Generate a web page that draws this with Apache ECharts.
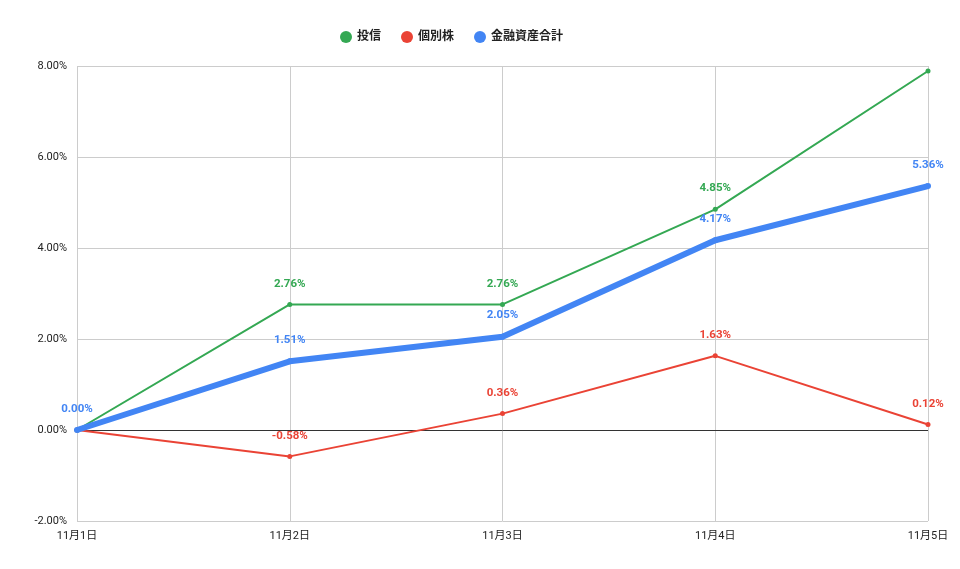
<!DOCTYPE html>
<html>
<head>
<meta charset="utf-8">
<script src="https://cdn.jsdelivr.net/npm/echarts@6/dist/echarts.min.js"></script>
<style>
  html, body { margin: 0; padding: 0; background: #fff; }
  #chart { width: 960px; height: 569px; }
</style>
</head>
<body>
<div id="chart"></div>
<script>
// 日付
var days = ['11月1日', '11月2日', '11月3日', '11月4日', '11月5日'];

// 各系列の騰落率(%)
var toushin = [0, 2.76, 2.76, 4.85, 7.89];
var kobetsu = [0, -0.58, 0.36, 1.63, 0.12];
var goukei = [0, 1.51, 2.05, 4.17, 5.36];

// 縦軸
var yMin = -2, yMax = 8, yStep = 2;

var font = 'Roboto, "Noto Sans CJK JP", sans-serif';

// ラベルを出さない点(重なり・はみ出し)
function withLabels(values, hidden) {
    return values.map(function (v, i) {
        if (hidden.indexOf(i) >= 0) {
            return { value: v, label: { show: false } };
        }
        return v;
    });
}

function labelFor(color) {
    return {
        show: true,
        position: 'top',
        distance: 12.5,
        color: color,
        fontSize: 11.5,
        fontWeight: 'bold',
        fontFamily: font,
        formatter: function (p) { return p.value.toFixed(2) + '%'; }
    };
}

var chart = echarts.init(document.getElementById('chart'));

var option = {
    animation: false,
    textStyle: { fontFamily: font },
    legend: {
        top: 26,
        left: 335,
        icon: 'circle',
        itemWidth: 12,
        itemHeight: 12,
        itemGap: 20,
        textStyle: { fontSize: 12, fontWeight: 'bold', color: '#222', fontFamily: font },
        data: ['投信', '個別株', '金融資産合計']
    },
    grid: { left: 77, right: 32, top: 66, bottom: 48, containLabel: false },
    xAxis: {
        type: 'category',
        boundaryGap: false,
        data: days,
        axisLine: { show: false },
        axisTick: { show: false },
        axisLabel: { color: '#222', fontSize: 11, margin: 10, fontFamily: font },
        splitLine: { show: true, lineStyle: { color: '#cccccc' } }
    },
    yAxis: {
        type: 'value',
        min: yMin,
        max: yMax,
        interval: yStep,
        axisLine: { show: false },
        axisTick: { show: false },
        axisLabel: {
            color: '#222',
            fontSize: 11,
            margin: 10,
            fontFamily: font,
            formatter: function (v) { return v.toFixed(2) + '%'; }
        },
        splitLine: { lineStyle: { color: '#cccccc' } }
    },
    series: [
        {
            name: '投信',
            type: 'line',
            data: withLabels(toushin, [0, 4]),
            color: '#34a853',
            lineStyle: { width: 2 },
            symbol: 'circle',
            symbolSize: 5,
            label: labelFor('#34a853'),
            z: 3
        },
        {
            name: '個別株',
            type: 'line',
            data: withLabels(kobetsu, [0]),
            color: '#ea4335',
            lineStyle: { width: 2 },
            symbol: 'circle',
            symbolSize: 5,
            label: labelFor('#ea4335'),
            z: 3,
            markLine: {
                silent: true,
                symbol: 'none',
                label: { show: false },
                lineStyle: { color: '#333', width: 1, type: 'solid' },
                data: [{ yAxis: 0 }],
                z: 1
            }
        },
        {
            name: '金融資産合計',
            type: 'line',
            data: goukei,
            color: '#4285f4',
            lineStyle: { width: 6 },
            symbol: 'circle',
            symbolSize: 6,
            label: labelFor('#4285f4'),
            z: 4
        }
    ]
};

chart.setOption(option);
</script>
</body>
</html>
